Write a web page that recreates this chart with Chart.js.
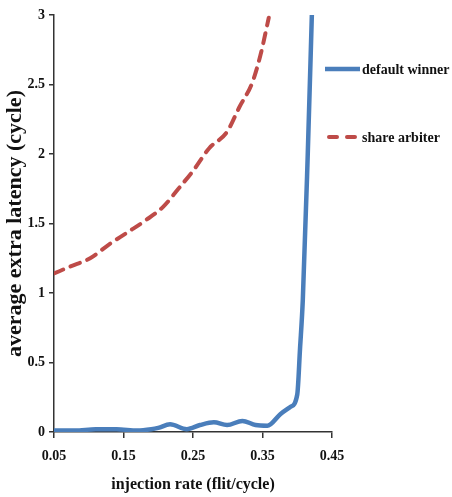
<!DOCTYPE html>
<html lang="en">
<head>
  <meta charset="UTF-8" />
  <title>Average extra latency</title>
  <script src="https://cdn.jsdelivr.net/npm/chart.js"></script>
  <style>
    html, body { margin: 0; padding: 0; background: #fff; }
    #wrap { width: 452px; height: 497px; }
  </style>
</head>
<body>
  <div id="wrap"><canvas id="latChart" width="452" height="497"></canvas></div>

  <script>
    // values
    const seriesNames = ["default winner", "share arbiter"];

    const winnerX = [0.05, 0.08, 0.11, 0.14, 0.17, 0.19, 0.20, 0.217, 0.241, 0.26, 0.28, 0.299, 0.321, 0.34, 0.357, 0.376, 0.39, 0.40, 0.404, 0.408, 0.415, 0.421];
    const winnerY = [0.01, 0.01, 0.02, 0.02, 0.01, 0.02, 0.03, 0.055, 0.02, 0.05, 0.07, 0.05, 0.08, 0.05, 0.045, 0.13, 0.18, 0.27, 0.6, 0.95, 1.98, 3.0];

    const shareX = [0.05, 0.073, 0.102, 0.128, 0.155, 0.181, 0.207, 0.229, 0.251, 0.273, 0.299, 0.317, 0.335, 0.347, 0.359];
    const shareY = [1.14, 1.19, 1.25, 1.345, 1.434, 1.52, 1.62, 1.75, 1.885, 2.04, 2.16, 2.34, 2.51, 2.71, 2.98];

    const xTicks = [0.05, 0.15, 0.25, 0.35, 0.45];
    const yTicks = [0, 0.5, 1, 1.5, 2, 2.5, 3];

    const serif = "'Liberation Serif', 'Times New Roman', serif";

    const toPoints = (xs, ys) => xs.map((x, i) => ({ x, y: ys[i] }));

    // small legend drawn at the right, over the plot edge like the original
    const sideLegend = {
      id: 'sideLegend',
      afterDraw(chart) {
        const ctx = chart.ctx;
        const rows = [69, 137];
        ctx.save();
        chart.data.datasets.forEach((ds, i) => {
          const y = rows[i];
          ctx.beginPath();
          ctx.strokeStyle = ds.borderColor;
          ctx.lineWidth = ds.borderWidth;
          ctx.lineCap = ds.borderDash ? 'round' : 'butt';
          ctx.setLineDash(ds.borderDash ? [8, 10] : []);
          ctx.moveTo(ds.borderDash ? 329 : 325, y);
          ctx.lineTo(360, y);
          ctx.stroke();
          ctx.setLineDash([]);
          ctx.fillStyle = '#111';
          ctx.font = 'bold 14px ' + serif;
          ctx.textBaseline = 'middle';
          ctx.fillText(ds.label, 362, y + 1);
        });
        ctx.restore();
      }
    };

    const ctx = document.getElementById('latChart').getContext('2d');
    new Chart(ctx, {
      type: 'line',
      data: {
        datasets: [
          {
            label: seriesNames[0],
            data: toPoints(winnerX, winnerY),
            borderColor: '#4a7ebb',
            borderWidth: 4.5,
            pointRadius: 0,
            cubicInterpolationMode: 'monotone',
            fill: false
          },
          {
            label: seriesNames[1],
            data: toPoints(shareX, shareY),
            borderColor: '#be4b48',
            borderWidth: 4,
            borderDash: [10, 8],
            borderCapStyle: 'round',
            pointRadius: 0,
            cubicInterpolationMode: 'monotone',
            fill: false
          }
        ]
      },
      options: {
        responsive: false,
        animation: false,
        layout: { padding: { top: 15, right: 120, left: 0, bottom: 0 } },
        plugins: {
          legend: { display: false },
          tooltip: { enabled: false }
        },
        scales: {
          x: {
            type: 'linear',
            min: 0.05,
            max: 0.45,
            afterBuildTicks: s => { s.ticks = xTicks.map(v => ({ value: v })); },
            afterFit: s => { s.height = 65; },
            border: { display: true, color: '#333', width: 1.5 },
            grid: { drawOnChartArea: false, drawTicks: true, tickLength: 6, color: '#333', lineWidth: 1.5 },
            ticks: {
              padding: 10,
              color: '#111',
              font: { family: serif, size: 14, weight: 'bold' },
              callback: v => v.toFixed(2),
              maxRotation: 0
            },
            title: {
              display: true,
              text: 'injection rate (flit/cycle)',
              color: '#111',
              font: { family: serif, size: 16, weight: 'bold' },
              padding: { top: 0, bottom: 3 }
            }
          },
          y: {
            type: 'linear',
            min: 0,
            max: 3,
            afterBuildTicks: s => { s.ticks = yTicks.map(v => ({ value: v })); },
            afterFit: s => { s.width = 54; },
            border: { display: true, color: '#333', width: 1.5 },
            grid: { drawOnChartArea: false, drawTicks: true, tickLength: 5, color: '#333', lineWidth: 1.5 },
            ticks: {
              padding: 4,
              color: '#111',
              font: { family: serif, size: 14, weight: 'bold' },
              callback: v => String(v)
            },
            title: {
              display: true,
              text: 'average extra latency (cycle)',
              color: '#111',
              font: { family: serif, size: 22, weight: 'bold' },
              padding: { top: 2, bottom: 0 }
            }
          }
        }
      },
      plugins: [sideLegend]
    });
  </script>
</body>
</html>
